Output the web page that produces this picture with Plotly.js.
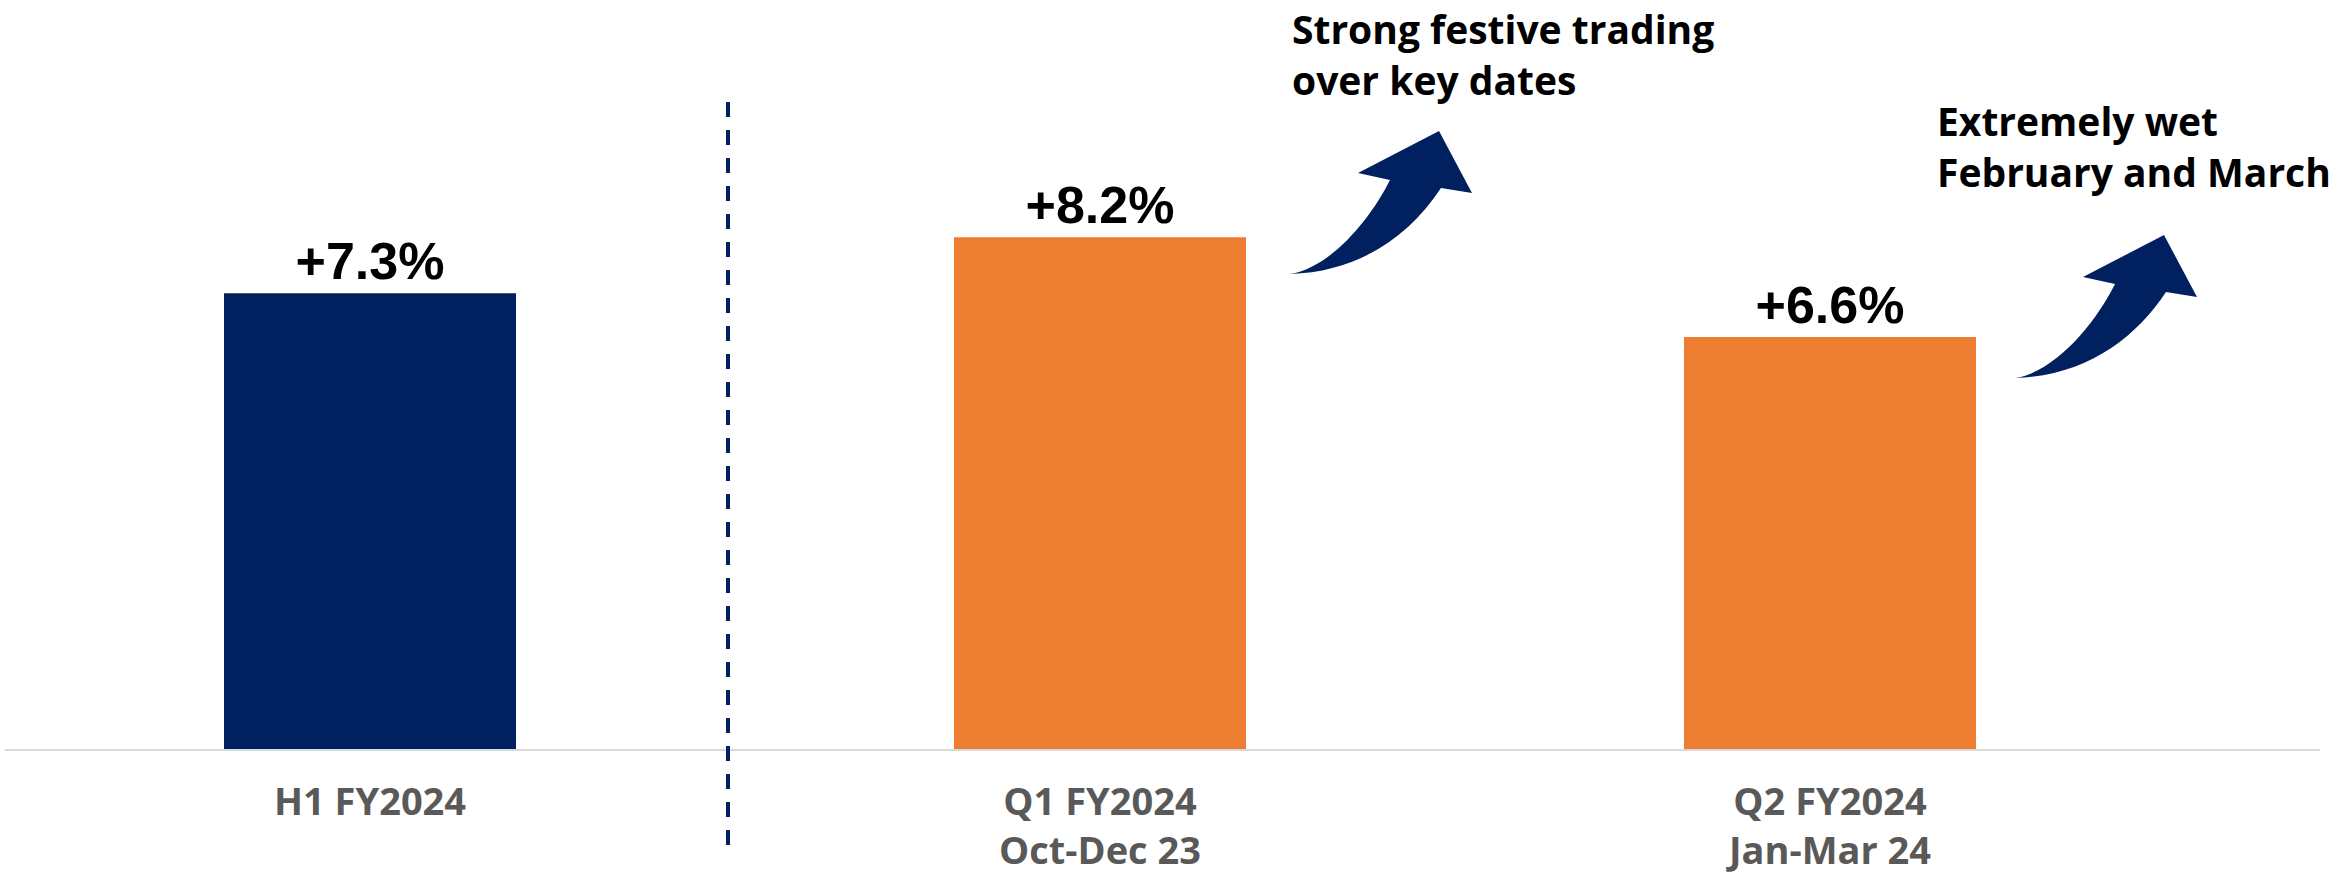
<!DOCTYPE html>
<html>
<head>
<meta charset="utf-8">
<script src="https://cdn.plot.ly/plotly-3.0.1.min.js"></script>
<style>
  html, body { margin: 0; padding: 0; background: #ffffff; }
  #chart { width: 2344px; height: 879px; }
</style>
</head>
<body>
<div id="chart"></div>
<script>
// ---- data ----
const categories = ['H1 FY2024', 'Q1 FY2024<br>Oct-Dec 23', 'Q2 FY2024<br>Jan-Mar 24'];
const values = [7.3, 8.2, 6.6];
const barColors = ['#002060', '#ED7D31', '#ED7D31'];
const notes = ['Strong festive trading<br>over key dates', 'Extremely wet<br>February and March'];

// ---- layout geometry (pixels) ----
const W = 2344, H = 879;
const M = { l: 5, r: 24, t: 0, b: 130 };
const plotW = W - M.l - M.r, plotH = H - M.t - M.b;
const px = x => (x - M.l) / plotW;
const py = y => (M.t + plotH - y) / plotH;
const pt = (x, y) => px(x).toFixed(5) + ',' + py(y).toFixed(5);

function arrowPath(dx, dy) {
  const P = (x, y) => pt(x + dx, y + dy);
  return 'M ' + P(1290, 274) +
    ' C ' + P(1330, 268) + ' ' + P(1370, 220) + ' ' + P(1390, 180) +
    ' L ' + P(1358, 173) +
    ' L ' + P(1439, 131) +
    ' L ' + P(1472, 193) +
    ' L ' + P(1441, 188) +
    ' C ' + P(1410, 235) + ' ' + P(1360, 272) + ' ' + P(1290, 274) + ' Z';
}

const trace = {
  type: 'bar',
  x: categories,
  y: values,
  marker: { color: barColors },
  texttemplate: '+%{y:.1f}%',
  textposition: 'outside',
  constraintext: 'none',
  cliponaxis: false,
  textfont: { family: '"Liberation Sans", Arial, sans-serif', size: 52, color: '#000000', weight: 'bold' },
  hoverinfo: 'skip'
};

const layout = {
  width: W, height: H,
  margin: M,
  paper_bgcolor: '#ffffff',
  plot_bgcolor: '#ffffff',
  showlegend: false,
  bargap: 0.6,
  xaxis: {
    type: 'category',
    range: [-0.5, -0.5 + plotW / 730],
    showline: true, linecolor: '#d9d9d9', linewidth: 2,
    showgrid: false, zeroline: false,
    ticks: '', ticklabelstandoff: 18,
    tickfont: { family: '"Open Sans", sans-serif', size: 38, color: '#595959', weight: 'bold' },
    fixedrange: true
  },
  yaxis: {
    range: [0, 12],
    visible: false, showgrid: false, zeroline: false, fixedrange: true
  },
  shapes: [
    { type: 'line', xref: 'paper', yref: 'paper',
      x0: px(728), x1: px(728), y0: py(102), y1: py(848),
      line: { color: '#002060', width: 4, dash: '15px,13px' } },
    { type: 'path', xref: 'paper', yref: 'paper', path: arrowPath(0, 0),
      fillcolor: '#002060', line: { width: 0 } },
    { type: 'path', xref: 'paper', yref: 'paper', path: arrowPath(725, 104),
      fillcolor: '#002060', line: { width: 0 } }
  ],
  annotations: [
    { text: notes[0], xref: 'paper', yref: 'paper', x: px(1290), y: py(108),
      xanchor: 'left', yanchor: 'bottom', align: 'left', showarrow: false,
      font: { family: '"Open Sans", sans-serif', size: 39, color: '#000000', weight: 'bold' } },
    { text: notes[1], xref: 'paper', yref: 'paper', x: px(1935), y: py(200),
      xanchor: 'left', yanchor: 'bottom', align: 'left', showarrow: false,
      font: { family: '"Open Sans", sans-serif', size: 39, color: '#000000', weight: 'bold' } }
  ]
};

Plotly.newPlot('chart', [trace], layout, { displayModeBar: false, staticPlot: true });
</script>
</body>
</html>
